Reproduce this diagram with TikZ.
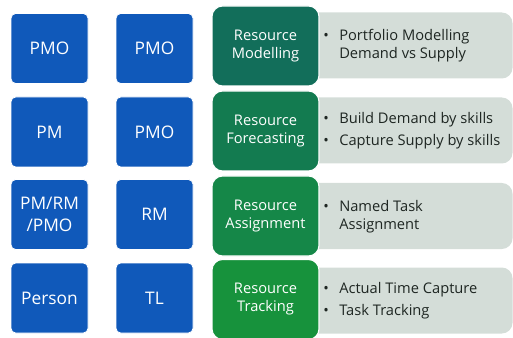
\documentclass[tikz,border=0pt]{standalone}
\usepackage{fontspec}
\setmainfont{Open Sans}
\usepackage{tikz}
\usetikzlibrary{positioning}
\definecolor{roleblue}{HTML}{1059BA}
\definecolor{stageA}{HTML}{126E5A}
\definecolor{stageB}{HTML}{137B50}
\definecolor{stageC}{HTML}{158748}
\definecolor{stageD}{HTML}{17923C}
\definecolor{notegrey}{HTML}{D4DDD8}
\definecolor{notetext}{HTML}{1E2622}
\newcommand{\bul}{\makebox[12pt][l]{\textbullet}}
\newcommand{\nobul}{\hspace*{12pt}}
\tikzset{role/.style={fill=roleblue, draw=white, line width=0.6pt, rounded corners=3.5pt, text=white, align=center,
  minimum width=57.75pt, minimum height=52.5pt, inner sep=0pt, font=\fontsize{13}{16.5}\selectfont},
stage/.style={draw=white, line width=0.8pt, rounded corners=8pt, text=white, align=center,
  minimum width=80.25pt, minimum height=60pt, inner sep=0pt, font=\fontsize{11}{13.5}\selectfont},
notebox/.style={fill=notegrey, rounded corners=8pt, minimum width=159pt, minimum height=49.5pt, inner sep=0pt},
notetxt/.style={text=notetext, align=left, anchor=west, inner sep=0pt, font=\fontsize{11}{13.5}\selectfont}}

\begin{document}
\begin{tikzpicture}[x=0.75pt,y=-0.75pt]
 \useasboundingbox (0,0) rectangle (513,338);

 % first column
 \node[role] (r1a) at (49.5,48.5) {PMO};
 \node[role] (r2a) at (49.5,132) {PM};
 \node[role] (r3a) at (49.5,214.5) {PM/RM\\/PMO};
 \node[role] (r4a) at (49.5,298) {Person};

 % second column
 \node[role] (r1b) at (154.5,48.5) {PMO};
 \node[role] (r2b) at (154.5,132) {PMO};
 \node[role] (r3b) at (154.5,214.5) {RM};
 \node[role] (r4b) at (154.5,298) {TL};

 % notes behind the stages
 \node[notebox] (n1) at (406.5,45.5) {};
 \node[notebox] (n2) at (406.5,130.5) {};
 \node[notebox] (n3) at (406.5,216) {};
 \node[notebox] (n4) at (406.5,300.5) {};

 \node[stage,fill=stageA] (s1) at (265.5,46) {Resource\\Modelling};
 \node[stage,fill=stageB] (s2) at (265.5,131) {Resource\\Forecasting};
 \node[stage,fill=stageC] (s3) at (265.5,216) {Resource\\Assignment};
 \node[stage,fill=stageD] (s4) at (265.5,299.5) {Resource\\Tracking};

 \node[notetxt] (t1) at (323,46) {\bul Portfolio Modelling\\\nobul Demand vs Supply};
 \node[notetxt] (t2) at (323,131) {\bul Build Demand by skills\\[3pt]\bul Capture Supply by skills};
 \node[notetxt] (t3) at (323,216.5) {\bul Named Task\\\nobul Assignment};
 \node[notetxt] (t4) at (323,301) {\bul Actual Time Capture\\[3pt]\bul Task Tracking};

\end{tikzpicture}
\end{document}
